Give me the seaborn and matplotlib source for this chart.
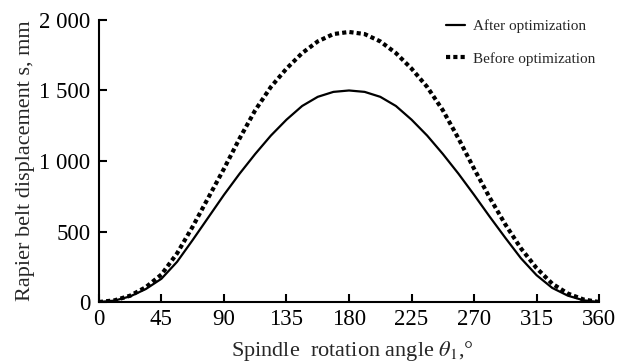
import numpy as np
import pandas as pd
import matplotlib
matplotlib.use("Agg")
import matplotlib.pyplot as plt
import seaborn as sns

# ---- data ----
angle = [0, 11.25, 22.5, 33.75, 45, 56.25, 67.5, 78.75, 90, 101.25, 112.5, 123.75,
         135, 146.25, 157.5, 168.75, 180, 191.25, 202.5, 213.75, 225, 236.25, 247.5,
         258.75, 270, 281.25, 292.5, 303.75, 315, 326.25, 337.5, 348.75, 360]
after_opt = [0, 10, 40, 92, 165, 285, 440, 600, 760, 910, 1050, 1180,
             1293, 1390, 1455, 1490, 1500, 1490, 1455, 1390, 1293, 1180, 1050,
             910, 760, 605, 455, 310, 190, 100, 45, 12, 0]
before_opt = [0, 12, 45, 105, 195, 345, 535, 740, 945, 1160, 1360, 1525,
              1655, 1765, 1848, 1900, 1915, 1900, 1848, 1765, 1655, 1525, 1360,
              1160, 945, 740, 550, 380, 240, 130, 60, 18, 0]
x_ticks = [0, 45, 90, 135, 180, 225, 270, 315, 360]
y_ticks = [0, 500, 1000, 1500, 2000]
y_tick_labels = ["0", "500", "1 000", "1 500", "2 000"]
series_names = ["After optimization", "Before optimization"]

df = pd.DataFrame({"angle": angle, "after": after_opt, "before": before_opt})

sns.set_theme(style="ticks")
plt.rcParams["font.family"] = ["Liberation Serif", "DejaVu Serif"]
plt.rcParams["mathtext.fontset"] = "stix"

fig = plt.figure(figsize=(6.3, 3.63), dpi=100)
ax = fig.add_axes([0.157, 0.168, 0.794, 0.777])

sns.lineplot(data=df, x="angle", y="after", ax=ax, color="black", linewidth=1.6,
             label=series_names[0])
sns.lineplot(data=df, x="angle", y="before", ax=ax, color="black", linewidth=3.0,
             linestyle=(0, (1, 0.75)), label=series_names[1])

ax.set_xlim(0, 360)
ax.set_ylim(0, 2000)
ax.set_xticks(x_ticks)
ax.set_xticklabels([str(t) for t in x_ticks])
ax.set_yticks(y_ticks)
ax.set_yticklabels(y_tick_labels)
ax.tick_params(direction="in", length=6, width=1.5, labelsize=16.5, colors="black")
ax.tick_params(axis="x", pad=5)
ax.tick_params(axis="y", pad=6)
for s in ["top", "right"]:
    ax.spines[s].set_visible(False)
for s in ["left", "bottom"]:
    ax.spines[s].set_linewidth(1.5)
    ax.spines[s].set_color("black")

ax.set_xlabel(r"Spindle  rotation angle $\theta_1$,°", fontsize=16)
ax.set_ylabel("Rapier belt displacement s, mm", fontsize=16, labelpad=3)
ax.xaxis.set_label_coords(0.506, -0.132)

leg = ax.legend(loc="upper right", bbox_to_anchor=(1.02, 1.05), frameon=False,
                fontsize=11, handlelength=1.3, handletextpad=0.5, labelspacing=1.2)

fig.savefig("out.png", dpi=100)
